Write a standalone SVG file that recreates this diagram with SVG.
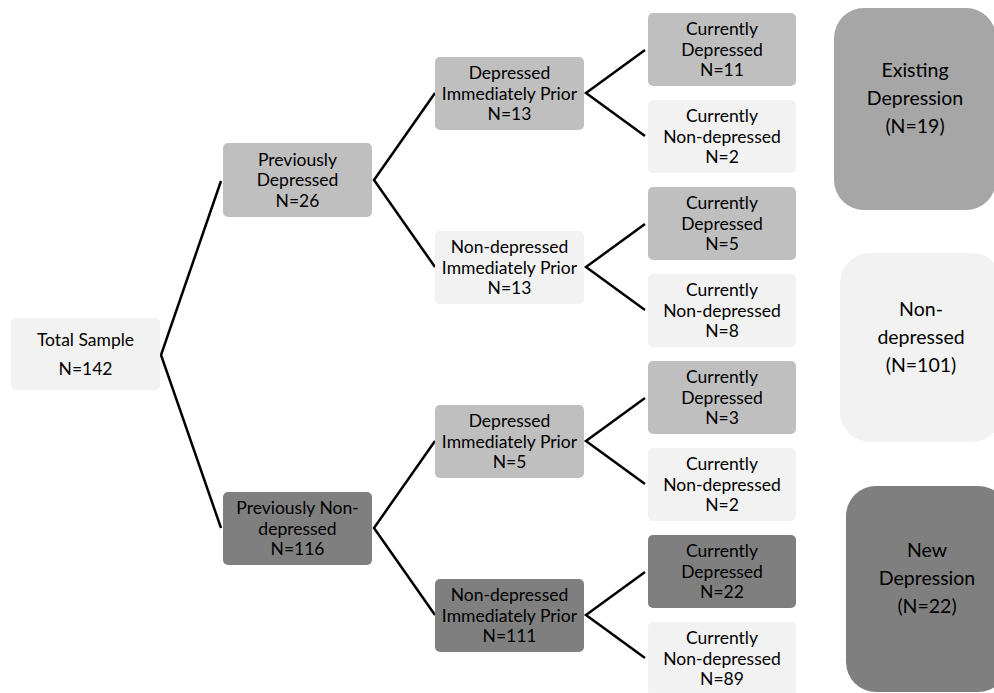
<svg xmlns="http://www.w3.org/2000/svg" width="994" height="693" viewBox="0 0 994 693">
<style>
  .t { font-family: Lato, "Liberation Sans", Arial, sans-serif; font-size: 17.5px; fill: #000; text-anchor: middle; }
  .tb { font-family: Lato, "Liberation Sans", Arial, sans-serif; font-size: 19.5px; fill: #000; text-anchor: middle; }
  .light { fill: #f2f2f2; }
  .mid { fill: #bfbfbf; }
  .dark { fill: #7f7f7f; }
  .ex { fill: #a6a6a6; }
  .conn { stroke: #000; stroke-width: 2.5; fill: none; stroke-linejoin: miter; }
</style>
<rect x="0" y="0" width="994" height="693" fill="#ffffff"/>

<g id="connectors">
  <polyline class="conn" points="221,181 161,355 221,528"/>
  <polyline class="conn" points="435,93 374,180 435,267"/>
  <polyline class="conn" points="435,441 374,528 435,615"/>
  <polyline class="conn" points="645,50 586,93 645,136"/>
  <polyline class="conn" points="645,224 586,267 645,310"/>
  <polyline class="conn" points="645,398 586,441 645,484"/>
  <polyline class="conn" points="645,572 586,615 645,658"/>
</g>

<g id="total">
  <rect class="light" x="11" y="318" width="149" height="72" rx="5"/>
  <text class="t" x="85.5" y="346">Total Sample</text>
  <text class="t" x="85.5" y="375">N=142</text>
</g>

<g id="prev-dep">
  <rect class="mid" x="223" y="143" width="149" height="74" rx="5"/>
  <text class="t" x="297.5" y="165.5">Previously</text>
  <text class="t" x="297.5" y="186">Depressed</text>
  <text class="t" x="297.5" y="206.5">N=26</text>
</g>

<g id="prev-nondep">
  <rect class="dark" x="223" y="492" width="149" height="73" rx="5"/>
  <text class="t" x="297.5" y="514">Previously Non-</text>
  <text class="t" x="297.5" y="534.5">depressed</text>
  <text class="t" x="297.5" y="555">N=116</text>
</g>

<g id="mid1">
  <rect class="mid" x="435" y="57" width="149" height="73" rx="5"/>
  <text class="t" x="509.5" y="79">Depressed</text>
  <text class="t" x="509.5" y="99.5">Immediately Prior</text>
  <text class="t" x="509.5" y="120">N=13</text>
</g>

<g id="mid2">
  <rect class="light" x="435" y="231" width="149" height="73" rx="5"/>
  <text class="t" x="509.5" y="253">Non-depressed</text>
  <text class="t" x="509.5" y="273.5">Immediately Prior</text>
  <text class="t" x="509.5" y="294">N=13</text>
</g>

<g id="mid3">
  <rect class="mid" x="435" y="405" width="149" height="73" rx="5"/>
  <text class="t" x="509.5" y="427">Depressed</text>
  <text class="t" x="509.5" y="447.5">Immediately Prior</text>
  <text class="t" x="509.5" y="468">N=5</text>
</g>

<g id="mid4">
  <rect class="dark" x="435" y="579" width="149" height="73" rx="5"/>
  <text class="t" x="509.5" y="601">Non-depressed</text>
  <text class="t" x="509.5" y="621.5">Immediately Prior</text>
  <text class="t" x="509.5" y="642">N=111</text>
</g>

<g id="leaf1">
  <rect class="mid" x="648" y="13" width="148" height="73" rx="5"/>
  <text class="t" x="722" y="35">Currently</text>
  <text class="t" x="722" y="55.5">Depressed</text>
  <text class="t" x="722" y="76">N=11</text>
</g>
<g id="leaf2">
  <rect class="light" x="648" y="100" width="148" height="73" rx="5"/>
  <text class="t" x="722" y="122">Currently</text>
  <text class="t" x="722" y="142.5">Non-depressed</text>
  <text class="t" x="722" y="163">N=2</text>
</g>
<g id="leaf3">
  <rect class="mid" x="648" y="187" width="148" height="73" rx="5"/>
  <text class="t" x="722" y="209">Currently</text>
  <text class="t" x="722" y="229.5">Depressed</text>
  <text class="t" x="722" y="250">N=5</text>
</g>
<g id="leaf4">
  <rect class="light" x="648" y="274" width="148" height="73" rx="5"/>
  <text class="t" x="722" y="296">Currently</text>
  <text class="t" x="722" y="316.5">Non-depressed</text>
  <text class="t" x="722" y="337">N=8</text>
</g>
<g id="leaf5">
  <rect class="mid" x="648" y="361" width="148" height="73" rx="5"/>
  <text class="t" x="722" y="383">Currently</text>
  <text class="t" x="722" y="403.5">Depressed</text>
  <text class="t" x="722" y="424">N=3</text>
</g>
<g id="leaf6">
  <rect class="light" x="648" y="448" width="148" height="73" rx="5"/>
  <text class="t" x="722" y="470">Currently</text>
  <text class="t" x="722" y="490.5">Non-depressed</text>
  <text class="t" x="722" y="511">N=2</text>
</g>
<g id="leaf7">
  <rect class="dark" x="648" y="535" width="148" height="73" rx="5"/>
  <text class="t" x="722" y="557">Currently</text>
  <text class="t" x="722" y="577.5">Depressed</text>
  <text class="t" x="722" y="598">N=22</text>
</g>
<g id="leaf8">
  <rect class="light" x="648" y="622" width="148" height="73" rx="5"/>
  <text class="t" x="722" y="644">Currently</text>
  <text class="t" x="722" y="664.5">Non-depressed</text>
  <text class="t" x="722" y="685">N=89</text>
</g>

<g id="existing">
  <rect class="ex" x="834" y="8" width="162" height="202" rx="30"/>
  <text class="tb" x="915" y="77">Existing</text>
  <text class="tb" x="915" y="105">Depression</text>
  <text class="tb" x="915" y="133">(N=19)</text>
</g>
<g id="nondepressed">
  <rect class="light" x="840" y="253" width="162" height="189" rx="30"/>
  <text class="tb" x="921" y="316">Non-</text>
  <text class="tb" x="921" y="344">depressed</text>
  <text class="tb" x="921" y="372">(N=101)</text>
</g>
<g id="newdep">
  <rect class="dark" x="846" y="486" width="162" height="206" rx="30"/>
  <text class="tb" x="927" y="557">New</text>
  <text class="tb" x="927" y="585">Depression</text>
  <text class="tb" x="927" y="613">(N=22)</text>
</g>
</svg>
